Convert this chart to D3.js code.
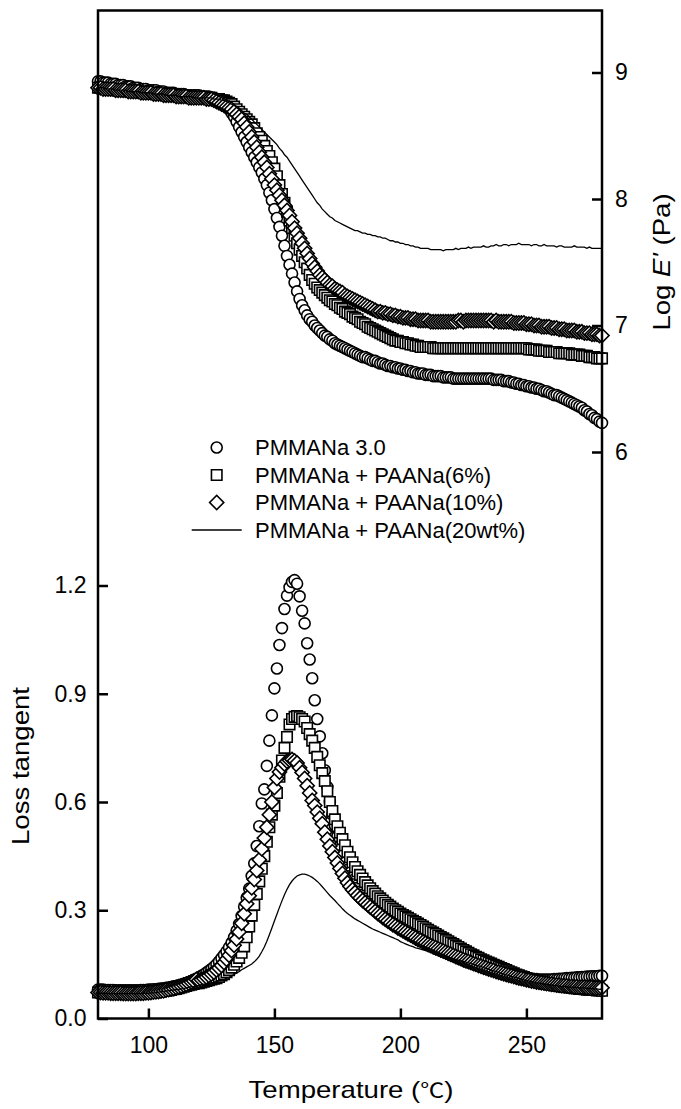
<!DOCTYPE html>
<html lang="en">
<head>
<meta charset="utf-8">
<title>PMMANa / PAANa dynamic mechanical data</title>
<script src="https://d3js.org/d3.v7.min.js"></script>
<style>
  body { margin: 0; background: #fff; }
  text { font-family: "Liberation Sans", Arial, sans-serif; fill: #000; }
</style>
</head>
<body>
<script>
// temperature grid (deg C)
var temps = [
  80,81,82,83,84,85,86,87,88,89, 90,91,92,93,94,95,96,97,98,99,
  100,101,102,103,104,105,106,107,108,109, 110,111,112,113,114,115,116,117,118,119,
  120,121,122,123,124,125,126,127,128,129, 130,131,132,133,134,135,136,137,138,139,
  140,141,142,143,144,145,146,147,148,149, 150,151,152,153,154,155,156,157,158,159,
  160,161,162,163,164,165,166,167,168,169, 170,171,172,173,174,175,176,177,178,179,
  180,181,182,183,184,185,186,187,188,189, 190,191,192,193,194,195,196,197,198,199,
  200,201,202,203,204,205,206,207,208,209, 210,211,212,213,214,215,216,217,218,219,
  220,221,222,223,224,225,226,227,228,229, 230,231,232,233,234,235,236,237,238,239,
  240,241,242,243,244,245,246,247,248,249, 250,251,252,253,254,255,256,257,258,259,
  260,261,262,263,264,265,266,267,268,269, 270,271,272,273,274,275,276,277,278,279,280
];

// Log E' (Pa)
var eCircle = [
  8.93,8.93,8.92,8.92,8.92,8.91,8.91,8.91,8.90,8.90, 8.90,8.89,8.89,8.89,8.88,8.88,8.88,8.87,8.87,8.87,
  8.86,8.86,8.86,8.86,8.85,8.85,8.85,8.84,8.84,8.84, 8.84,8.83,8.83,8.83,8.83,8.82,8.82,8.82,8.82,8.82,
  8.82,8.81,8.81,8.81,8.81,8.80,8.80,8.79,8.78,8.77, 8.75,8.73,8.71,8.68,8.65,8.61,8.57,8.53,8.49,8.45,
  8.41,8.37,8.33,8.29,8.25,8.21,8.16,8.11,8.05,7.99, 7.92,7.85,7.78,7.71,7.63,7.55,7.48,7.41,7.34,7.27,
  7.21,7.16,7.12,7.08,7.05,7.03,7.00,6.98,6.96,6.94, 6.92,6.91,6.89,6.88,6.86,6.85,6.84,6.83,6.82,6.81,
  6.80,6.79,6.78,6.77,6.76,6.75,6.75,6.74,6.73,6.72, 6.72,6.71,6.70,6.70,6.69,6.68,6.68,6.67,6.67,6.66,
  6.66,6.65,6.65,6.64,6.64,6.63,6.63,6.62,6.62,6.62, 6.61,6.61,6.61,6.60,6.60,6.60,6.60,6.59,6.59,6.59,
  6.59,6.58,6.58,6.58,6.58,6.58,6.58,6.58,6.58,6.58, 6.58,6.58,6.58,6.58,6.58,6.58,6.58,6.57,6.57,6.57,
  6.57,6.56,6.56,6.56,6.55,6.55,6.54,6.54,6.53,6.53, 6.52,6.52,6.51,6.51,6.50,6.50,6.49,6.48,6.48,6.47,
  6.46,6.45,6.45,6.44,6.43,6.42,6.41,6.40,6.39,6.38, 6.37,6.36,6.35,6.33,6.32,6.30,6.29,6.27,6.26,6.24,6.23
];
var eSquare = [
  8.88,8.88,8.88,8.87,8.87,8.87,8.87,8.86,8.86,8.86, 8.86,8.86,8.85,8.85,8.85,8.85,8.85,8.84,8.84,8.84,
  8.84,8.84,8.83,8.83,8.83,8.83,8.83,8.82,8.82,8.82, 8.82,8.82,8.81,8.81,8.81,8.81,8.81,8.81,8.80,8.80,
  8.80,8.80,8.80,8.80,8.80,8.80,8.79,8.79,8.79,8.78, 8.78,8.77,8.76,8.75,8.73,8.71,8.69,8.67,8.65,8.63,
  8.61,8.59,8.56,8.52,8.49,8.46,8.42,8.38,8.34,8.29, 8.24,8.18,8.11,8.04,7.97,7.90,7.83,7.77,7.71,7.65,
  7.60,7.55,7.50,7.45,7.40,7.36,7.33,7.30,7.28,7.26, 7.24,7.22,7.20,7.19,7.17,7.16,7.14,7.13,7.11,7.10,
  7.09,7.07,7.06,7.05,7.03,7.02,7.01,6.99,6.98,6.97, 6.96,6.95,6.94,6.93,6.92,6.91,6.90,6.89,6.88,6.88,
  6.87,6.87,6.86,6.86,6.85,6.85,6.84,6.84,6.83,6.83, 6.83,6.83,6.83,6.82,6.82,6.82,6.82,6.82,6.82,6.82,
  6.82,6.82,6.82,6.82,6.82,6.82,6.82,6.82,6.82,6.82, 6.82,6.82,6.82,6.82,6.82,6.82,6.82,6.82,6.82,6.82,
  6.82,6.82,6.82,6.82,6.82,6.82,6.82,6.82,6.82,6.82, 6.82,6.81,6.81,6.81,6.81,6.80,6.80,6.80,6.80,6.79,
  6.79,6.79,6.79,6.78,6.78,6.78,6.78,6.78,6.77,6.77, 6.77,6.77,6.76,6.76,6.76,6.75,6.75,6.75,6.74,6.74,6.74
];
var eDiamond = [
  8.88,8.88,8.87,8.87,8.87,8.87,8.87,8.86,8.86,8.86, 8.86,8.86,8.85,8.85,8.85,8.85,8.85,8.84,8.84,8.84,
  8.84,8.84,8.83,8.83,8.83,8.83,8.82,8.82,8.82,8.82, 8.82,8.81,8.81,8.81,8.81,8.81,8.80,8.80,8.80,8.80,
  8.80,8.80,8.80,8.79,8.79,8.79,8.78,8.77,8.76,8.75, 8.74,8.73,8.72,8.71,8.69,8.67,8.65,8.63,8.60,8.57,
  8.53,8.49,8.45,8.41,8.37,8.33,8.29,8.25,8.20,8.16, 8.11,8.07,8.03,7.99,7.95,7.91,7.87,7.82,7.77,7.73,
  7.69,7.65,7.61,7.57,7.53,7.49,7.46,7.43,7.40,7.38, 7.36,7.34,7.32,7.31,7.29,7.28,7.27,7.26,7.24,7.23,
  7.22,7.21,7.20,7.19,7.18,7.17,7.16,7.15,7.14,7.13, 7.12,7.11,7.11,7.10,7.10,7.09,7.09,7.08,7.08,7.07,
  7.07,7.06,7.06,7.06,7.05,7.05,7.05,7.04,7.04,7.04, 7.04,7.04,7.03,7.03,7.03,7.03,7.03,7.03,7.03,7.03,
  7.03,7.03,7.03,7.04,7.04,7.03,7.04,7.04,7.04,7.04, 7.04,7.04,7.04,7.04,7.04,7.04,7.04,7.03,7.04,7.03,
  7.03,7.03,7.03,7.03,7.03,7.02,7.02,7.02,7.02,7.02, 7.01,7.01,7.01,7.00,7.00,7.00,6.99,6.99,6.99,6.99,
  6.98,6.98,6.98,6.97,6.97,6.97,6.96,6.96,6.96,6.96, 6.95,6.95,6.95,6.94,6.94,6.94,6.93,6.93,6.93,6.92,6.92
];
var eLine20 = [
  8.88,8.88,8.88,8.87,8.87,8.87,8.87,8.86,8.86,8.86, 8.86,8.86,8.85,8.85,8.85,8.85,8.85,8.84,8.84,8.84,
  8.84,8.84,8.83,8.83,8.83,8.83,8.83,8.82,8.82,8.82, 8.82,8.82,8.81,8.81,8.81,8.81,8.81,8.81,8.80,8.80,
  8.80,8.80,8.80,8.80,8.80,8.80,8.79,8.79,8.79,8.78, 8.78,8.77,8.76,8.75,8.74,8.73,8.72,8.70,8.68,8.67,
  8.65,8.63,8.61,8.59,8.57,8.55,8.53,8.51,8.49,8.47, 8.45,8.43,8.40,8.38,8.35,8.33,8.30,8.27,8.24,8.21,
  8.18,8.15,8.12,8.09,8.06,8.03,8.00,7.97,7.95,7.92, 7.90,7.88,7.86,7.85,7.83,7.82,7.81,7.80,7.79,7.78,
  7.77,7.76,7.75,7.75,7.74,7.73,7.73,7.72,7.72,7.71, 7.71,7.70,7.70,7.69,7.69,7.68,7.67,7.67,7.66,7.66,
  7.65,7.65,7.64,7.64,7.63,7.63,7.62,7.62,7.61,7.61, 7.61,7.61,7.60,7.60,7.60,7.60,7.60,7.59,7.60,7.60,
  7.60,7.60,7.61,7.60,7.61,7.61,7.61,7.62,7.61,7.62, 7.62,7.62,7.62,7.63,7.62,7.62,7.63,7.63,7.64,7.63,
  7.63,7.64,7.64,7.63,7.64,7.64,7.64,7.65,7.64,7.64, 7.64,7.64,7.63,7.64,7.64,7.63,7.63,7.64,7.63,7.63,
  7.63,7.63,7.62,7.63,7.63,7.62,7.62,7.62,7.62,7.63, 7.62,7.62,7.62,7.62,7.61,7.62,7.61,7.61,7.61,7.61,7.61
];

// loss tangent
var tanCircle = [
  0.080,0.080,0.080,0.079,0.079,0.079,0.079,0.078,0.078,0.078, 0.078,0.078,0.078,0.078,0.078,0.078,0.078,0.079,0.079,0.079,
  0.080,0.080,0.081,0.081,0.082,0.083,0.084,0.085,0.086,0.087, 0.089,0.090,0.092,0.094,0.096,0.098,0.101,0.104,0.107,0.110,
  0.114,0.118,0.122,0.127,0.132,0.137,0.143,0.150,0.158,0.167, 0.176,0.186,0.197,0.210,0.225,0.243,0.262,0.284,0.310,0.335,
  0.360,0.395,0.430,0.478,0.533,0.596,0.635,0.700,0.770,0.840, 0.915,0.970,1.035,1.082,1.135,1.172,1.195,1.210,1.215,1.205,
  1.170,1.130,1.095,1.040,0.995,0.943,0.882,0.830,0.782,0.735, 0.688,0.642,0.600,0.565,0.535,0.505,0.478,0.455,0.432,0.412,
  0.395,0.383,0.372,0.362,0.352,0.343,0.334,0.326,0.318,0.311, 0.304,0.297,0.291,0.285,0.279,0.273,0.268,0.263,0.258,0.253,
  0.248,0.244,0.239,0.235,0.231,0.227,0.223,0.219,0.215,0.212, 0.208,0.204,0.201,0.198,0.194,0.191,0.188,0.185,0.182,0.179,
  0.176,0.173,0.170,0.167,0.164,0.161,0.158,0.156,0.153,0.151, 0.148,0.146,0.143,0.141,0.139,0.137,0.135,0.133,0.131,0.129,
  0.127,0.125,0.123,0.121,0.120,0.118,0.117,0.115,0.114,0.113, 0.112,0.111,0.110,0.109,0.109,0.108,0.108,0.108,0.108,0.108,
  0.108,0.109,0.109,0.110,0.110,0.111,0.112,0.112,0.113,0.113, 0.114,0.114,0.115,0.115,0.116,0.116,0.117,0.117,0.117,0.118,0.118
];
var tanSquare = [
  0.072,0.072,0.072,0.071,0.071,0.071,0.071,0.070,0.070,0.070, 0.070,0.070,0.070,0.070,0.070,0.070,0.070,0.071,0.071,0.071,
  0.072,0.072,0.073,0.073,0.074,0.075,0.076,0.077,0.078,0.079, 0.081,0.082,0.084,0.086,0.088,0.090,0.092,0.094,0.096,0.098,
  0.098,0.100,0.102,0.104,0.106,0.108,0.110,0.112,0.115,0.119, 0.123,0.128,0.134,0.141,0.149,0.158,0.168,0.182,0.200,0.225,
  0.255,0.285,0.315,0.345,0.380,0.415,0.450,0.490,0.530,0.565, 0.590,0.625,0.670,0.715,0.750,0.780,0.815,0.830,0.836,0.838,
  0.835,0.830,0.823,0.805,0.788,0.770,0.750,0.725,0.702,0.680, 0.658,0.630,0.600,0.575,0.552,0.533,0.515,0.497,0.480,0.462,
  0.447,0.433,0.420,0.408,0.398,0.388,0.378,0.369,0.361,0.353, 0.346,0.339,0.333,0.327,0.321,0.315,0.310,0.305,0.300,0.296,
  0.291,0.287,0.283,0.279,0.275,0.271,0.267,0.263,0.259,0.255, 0.250,0.246,0.242,0.238,0.234,0.230,0.226,0.222,0.218,0.214,
  0.210,0.206,0.202,0.198,0.194,0.190,0.186,0.182,0.178,0.175, 0.171,0.168,0.164,0.161,0.158,0.155,0.152,0.149,0.146,0.143,
  0.140,0.137,0.134,0.131,0.128,0.125,0.122,0.120,0.117,0.115, 0.112,0.110,0.108,0.106,0.104,0.102,0.100,0.098,0.097,0.095,
  0.094,0.092,0.091,0.090,0.089,0.088,0.087,0.086,0.085,0.084, 0.083,0.082,0.082,0.081,0.080,0.080,0.079,0.079,0.078,0.078,0.077
];
var tanDiamond = [
  0.072,0.072,0.071,0.071,0.071,0.070,0.070,0.070,0.070,0.070, 0.069,0.069,0.069,0.069,0.069,0.069,0.070,0.070,0.070,0.071,
  0.071,0.072,0.073,0.074,0.075,0.076,0.077,0.079,0.080,0.082, 0.084,0.086,0.088,0.090,0.093,0.095,0.098,0.101,0.104,0.108,
  0.105,0.108,0.111,0.115,0.119,0.123,0.128,0.134,0.140,0.147, 0.155,0.164,0.175,0.188,0.203,0.220,0.240,0.264,0.290,0.318,
  0.340,0.362,0.385,0.410,0.440,0.470,0.500,0.530,0.565,0.600, 0.640,0.665,0.683,0.695,0.705,0.713,0.716,0.718,0.714,0.708,
  0.695,0.682,0.665,0.645,0.625,0.604,0.590,0.572,0.555,0.540, 0.516,0.497,0.478,0.462,0.446,0.431,0.416,0.402,0.389,0.376,
  0.366,0.357,0.349,0.341,0.334,0.327,0.321,0.315,0.309,0.303, 0.297,0.291,0.286,0.280,0.275,0.270,0.265,0.260,0.256,0.251,
  0.247,0.243,0.239,0.235,0.231,0.227,0.223,0.219,0.216,0.212, 0.209,0.205,0.202,0.199,0.196,0.193,0.190,0.187,0.184,0.181,
  0.178,0.175,0.172,0.169,0.166,0.163,0.160,0.158,0.155,0.152, 0.150,0.147,0.145,0.142,0.140,0.137,0.135,0.133,0.130,0.128,
  0.126,0.124,0.122,0.120,0.118,0.116,0.114,0.112,0.111,0.109, 0.107,0.106,0.104,0.103,0.101,0.100,0.099,0.098,0.097,0.096,
  0.095,0.094,0.093,0.092,0.091,0.091,0.090,0.089,0.089,0.088, 0.088,0.087,0.087,0.087,0.086,0.086,0.086,0.085,0.085,0.085,0.085
];
var tanLine20 = [
  0.070,0.070,0.070,0.070,0.069,0.069,0.069,0.069,0.069,0.069, 0.069,0.069,0.069,0.069,0.069,0.069,0.069,0.069,0.070,0.070,
  0.070,0.071,0.071,0.072,0.073,0.074,0.075,0.076,0.077,0.078, 0.079,0.080,0.081,0.082,0.083,0.085,0.086,0.088,0.089,0.091,
  0.092,0.094,0.095,0.096,0.098,0.099,0.100,0.102,0.104,0.106, 0.108,0.111,0.114,0.118,0.122,0.126,0.130,0.135,0.139,0.143,
  0.147,0.151,0.157,0.164,0.173,0.185,0.198,0.214,0.232,0.251, 0.270,0.289,0.308,0.326,0.343,0.358,0.371,0.381,0.389,0.395,
  0.398,0.400,0.400,0.398,0.395,0.391,0.386,0.380,0.373,0.365, 0.357,0.349,0.341,0.334,0.327,0.319,0.312,0.304,0.297,0.291,
  0.286,0.281,0.276,0.272,0.268,0.264,0.260,0.256,0.252,0.248, 0.245,0.242,0.239,0.236,0.233,0.230,0.227,0.224,0.221,0.218,
  0.213,0.210,0.207,0.204,0.201,0.199,0.196,0.194,0.192,0.190, 0.188,0.186,0.184,0.181,0.179,0.177,0.175,0.173,0.172,0.170,
  0.168,0.166,0.164,0.162,0.160,0.158,0.156,0.154,0.152,0.150, 0.148,0.146,0.144,0.141,0.139,0.137,0.134,0.132,0.130,0.127,
  0.125,0.123,0.121,0.119,0.117,0.115,0.113,0.111,0.109,0.107, 0.105,0.104,0.102,0.101,0.099,0.098,0.097,0.096,0.095,0.094,
  0.093,0.092,0.091,0.090,0.089,0.089,0.088,0.087,0.087,0.086, 0.086,0.085,0.085,0.084,0.084,0.083,0.083,0.082,0.082,0.081,0.081
];

var tempTicks = [100, 150, 200, 250];
var tanTicks = [0, 0.3, 0.6, 0.9, 1.2];
var logTicks = [6, 7, 8, 9];
var legendLabels = ["PMMANa 3.0", "PMMANa + PAANa(6%)", "PMMANa + PAANa(10%)", "PMMANa + PAANa(20wt%)"];
var legendKinds = ["circle", "square", "diamond", "line"];

var w = 681, h = 1109;
var plotLeft = 98, plotRight = 602, plotTop = 10.5, plotBottom = 1018.5;
var markStroke = 1.6;

var svg = d3.select("body").append("svg").attr("width", w).attr("height", h);

var x = d3.scaleLinear().domain([80, 280]).range([plotLeft, plotRight]);
var yTan = d3.scaleLinear().domain([0, 1.2]).range([plotBottom, 585.5]);
var yLog = d3.scaleLinear().domain([6, 9]).range([452, 72.5]);

function styleAxis(g) {
    g.select(".domain").remove();
    g.selectAll(".tick line").attr("stroke", "#000").attr("stroke-width", 2.5);
    g.selectAll(".tick text").attr("font-size", 23).attr("fill", "#000")
        .attr("font-family", "Liberation Sans, Arial, sans-serif");
}

function pts(vals) {
    return temps.map(function (t, i) { return [t, vals[i]]; });
}

function drawCircles(vals, y) {
    svg.append("g").selectAll("circle").data(pts(vals)).enter().append("circle")
        .attr("cx", function (d) { return x(d[0]); })
        .attr("cy", function (d) { return y(d[1]); })
        .attr("r", 5.5)
        .attr("fill", "#fff").attr("stroke", "#000").attr("stroke-width", markStroke);
}

function drawSymbols(vals, y, kind) {
    var sym = kind == "square" ? d3.symbol(d3.symbolSquare, 110) : d3.symbol(d3.symbolSquare, 100);
    svg.append("g").selectAll("path").data(pts(vals)).enter().append("path")
        .attr("d", sym)
        .attr("transform", function (d) {
            return "translate(" + x(d[0]) + "," + y(d[1]) + ")" + (kind == "diamond" ? " rotate(45)" : "");
        })
        .attr("fill", "#fff").attr("stroke", "#000").attr("stroke-width", markStroke);
}

function drawLine(vals, y) {
    var line = d3.line().x(function (d) { return x(d[0]); }).y(function (d) { return y(d[1]); });
    svg.append("path").datum(pts(vals)).attr("d", line)
        .attr("fill", "none").attr("stroke", "#000").attr("stroke-width", 1.3);
}

// storage modulus (upper)
drawCircles(eCircle, yLog);
drawSymbols(eSquare, yLog, "square");
drawSymbols(eDiamond, yLog, "diamond");
drawLine(eLine20, yLog);

// loss tangent (lower)
drawCircles(tanCircle, yTan);
drawSymbols(tanSquare, yTan, "square");
drawSymbols(tanDiamond, yTan, "diamond");
drawLine(tanLine20, yTan);

// frame
svg.append("rect").attr("x", plotLeft).attr("y", plotTop)
    .attr("width", plotRight - plotLeft).attr("height", plotBottom - plotTop)
    .attr("fill", "none").attr("stroke", "#000").attr("stroke-width", 2.5);

svg.append("g").attr("transform", "translate(0," + plotBottom + ")")
    .call(d3.axisBottom(x).tickValues(tempTicks).tickSizeInner(-10).tickSizeOuter(0)
        .tickPadding(18.5).tickFormat(d3.format("d")))
    .call(styleAxis);

svg.append("g").attr("transform", "translate(" + plotLeft + ",0)")
    .call(d3.axisLeft(yTan).tickValues(tanTicks).tickSizeInner(-10).tickSizeOuter(0)
        .tickPadding(11.5).tickFormat(d3.format(".1f")))
    .call(styleAxis);

svg.append("g").attr("transform", "translate(" + plotRight + ",0)")
    .call(d3.axisRight(yLog).tickValues(logTicks).tickSizeInner(-10).tickSizeOuter(0)
        .tickPadding(13).tickFormat(d3.format("d")))
    .call(styleAxis);

// axis titles
var xt = svg.append("text").attr("transform", "translate(351,1098) scale(1.2,1)")
    .attr("text-anchor", "middle").attr("font-size", 23);
xt.append("tspan").text("Temperature (");
xt.append("tspan").attr("font-family", "Noto Sans CJK KR").attr("font-size", 20).text("℃");
xt.append("tspan").text(")");

svg.append("text").attr("transform", "translate(28.5,766) rotate(-90) scale(1.2,1)")
    .attr("text-anchor", "middle").attr("font-size", 23).text("Loss tangent");

var yt = svg.append("text").attr("transform", "translate(670,262) rotate(-90) scale(1.2,1)")
    .attr("text-anchor", "middle").attr("font-size", 23);
yt.append("tspan").text("Log ");
yt.append("tspan").attr("font-style", "italic").text("E'");
yt.append("tspan").text(" (Pa)");

// legend
var lg = svg.append("g");
legendLabels.forEach(function (label, i) {
    var cy = 447.5 + i * 27.5;
    var k = legendKinds[i];
    if (k == "circle") {
        lg.append("circle").attr("cx", 216.7).attr("cy", cy).attr("r", 5.5)
            .attr("fill", "#fff").attr("stroke", "#000").attr("stroke-width", markStroke);
    } else if (k == "line") {
        lg.append("line").attr("x1", 191.7).attr("x2", 241.7).attr("y1", cy).attr("y2", cy)
            .attr("stroke", "#000").attr("stroke-width", 1.3);
    } else {
        lg.append("path").attr("d", d3.symbol(d3.symbolSquare, k == "square" ? 110 : 100))
            .attr("transform", "translate(216.7," + cy + ")" + (k == "diamond" ? " rotate(45)" : ""))
            .attr("fill", "#fff").attr("stroke", "#000").attr("stroke-width", markStroke);
    }
    lg.append("text").attr("x", 255).attr("y", cy).attr("dy", "0.36em")
        .attr("font-size", 22).text(label);
});
</script>
</body>
</html>
